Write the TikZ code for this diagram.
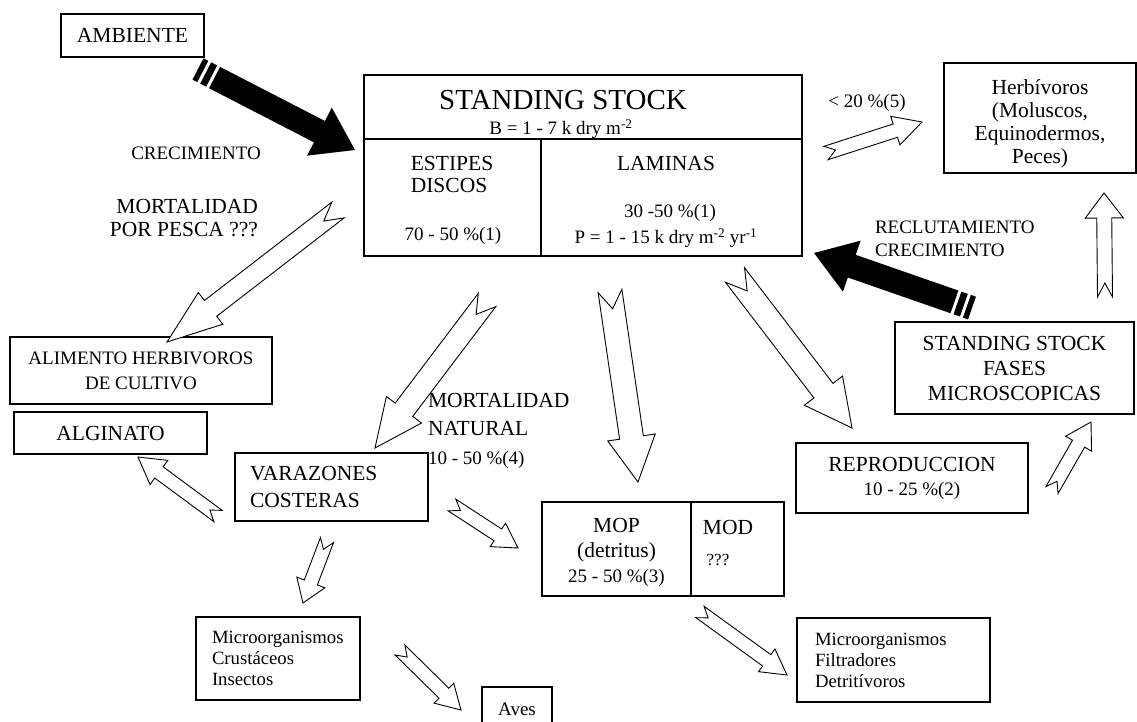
\documentclass[tikz,border=0pt]{standalone}
\usepackage{fontspec}
\setmainfont{Liberation Serif}
\usetikzlibrary{calc}

\newcommand\fsbig{\fontsize{29}{32}\selectfont}
\newcommand\fsmed{\fontsize{21.5}{25}\selectfont}
\newcommand\fssmall{\fontsize{19}{21}\selectfont}

% hollow arrow: tail, tip, shaft half width, head half width, head length, notch
\newcommand\hollowarrow[6]{%
  \draw[line width=0.9pt, fill=white]
    let \p1=($(#2)-(#1)$), \n1={atan2(\y1,\x1)}, \n2={veclen(\x1,\y1)-#5pt} in
    ($(#1)+(\n1+90:#3pt)$) -- ($(#1)+(\n1:\n2)+(\n1+90:#3pt)$)
    -- ($(#1)+(\n1:\n2)+(\n1+90:#4pt)$) -- (#2)
    -- ($(#1)+(\n1:\n2)+(\n1-90:#4pt)$) -- ($(#1)+(\n1:\n2)+(\n1-90:#3pt)$)
    -- ($(#1)+(\n1-90:#3pt)$) -- ($(#1)+(\n1:#6pt)$) -- cycle;}

% black arrow with two white bands at the tail
\newcommand\blackarrow[2]{%
  \fill let \p1=($(#2)-(#1)$), \n1={atan2(\y1,\x1)}, \n2={veclen(\x1,\y1)-40pt} in
    ($(#1)+(\n1+90:12pt)$) -- ($(#1)+(\n1:\n2)+(\n1+90:12pt)$)
    -- ($(#1)+(\n1:\n2)+(\n1+90:27pt)$) -- (#2)
    -- ($(#1)+(\n1:\n2)+(\n1-90:27pt)$) -- ($(#1)+(\n1:\n2)+(\n1-90:12pt)$)
    -- ($(#1)-(\n1+90:12pt)$) -- cycle;
  \draw[white, line width=3pt] let \p1=($(#2)-(#1)$), \n1={atan2(\y1,\x1)} in
    ($(#1)+(\n1:7pt)+(\n1+90:14pt)$) -- ($(#1)+(\n1:7pt)+(\n1-90:14pt)$)
    ($(#1)+(\n1:17pt)+(\n1+90:14pt)$) -- ($(#1)+(\n1:17pt)+(\n1-90:14pt)$);}

\begin{document}
\begin{tikzpicture}[x=1pt, y=-1pt,
    every node/.style={inner sep=0pt, outer sep=0pt},
    box/.style={draw, line width=1.3pt}]
    \fill[white] (0,0) rectangle (1137,721);
    \useasboundingbox (0,0) rectangle (1137,721);

    % boxes
    \node[box, minimum width=143pt, minimum height=43pt, font=\fsmed] (amb) at (132.5,35.5) {AMBIENTE};
    \node[box, minimum width=438pt, minimum height=181pt] (ss) at (583,165.5) {};
    \draw[line width=1.3pt] ($(ss.north west)+(0,64)$) -- ($(ss.north east)+(0,64)$);
    \draw[line width=1.3pt] ($(ss.south west)+(177,0)$) -- ($(ss.south west)+(177,-117)$);
    \node[box, minimum width=192pt, minimum height=110pt, align=center,
          font={\fontsize{21.5}{23}\selectfont}] (herb) at (1040,118)
          {\rule{0pt}{27pt}Herbívoros\\(Moluscos,\\Equinodermos,\\Peces)};
    \node[box, minimum width=239pt, minimum height=92pt, align=center, font=\fsmed] (fases) at (1014.5,368)
          {STANDING STOCK\\FASES\\MICROSCOPICAS};
    \node[box, minimum width=232pt, minimum height=70pt, align=center, font=\fsmed] (repro) at (912,478)
          {REPRODUCCION\\[-1pt]\fssmall 10 - 25 \%(2)};
    \node[box, minimum width=242pt, minimum height=94pt] (mop) at (663,549) {};
    \draw[line width=1.3pt] ($(mop.south west)+(149,0)$) -- ($(mop.north west)+(149,0)$);
    \node[box, minimum width=193pt, minimum height=84pt, inner xsep=18pt, text width=157pt, align=left,
          font={\fontsize{18.7}{21}\selectfont}] (filt) at (893.5,660) {Microorganismos\\Filtradores\\Detritívoros};
    \node[box, minimum width=164pt, minimum height=83pt, inner xsep=16pt, text width=132pt, align=left,
          font={\fontsize{18.7}{21}\selectfont}] (micro) at (278,658.5) {Microorganismos\\Crustáceos\\Insectos};
    \node[box, minimum width=70pt, minimum height=44pt, font=\fssmall] (aves) at (517,709) {Aves};
    \node[box, minimum width=262pt, minimum height=67pt, align=center,
          font={\fontsize{19}{25}\selectfont}] (alim) at (141,370.5) {ALIMENTO HERBIVOROS\\DE CULTIVO};
    \node[box, minimum width=193pt, minimum height=42pt, font=\fsmed] (alg) at (110.5,433) {ALGINATO};
    \node[box, minimum width=193pt, minimum height=68pt, inner xsep=15pt, text width=163pt, align=left,
          font={\fontsize{21.5}{27}\selectfont}] (var) at (331.5,487) {VARAZONES\\COSTERAS};

    % texts in the big boxes
    \node[font=\fsbig] (sstitle) at (563,100) {STANDING STOCK};
    \node[font=\fssmall] (ssbio) at (561,129) {B = 1 - 7 k dry m\textsuperscript{-2}};
    \node[font={\fontsize{21.5}{22}\selectfont}, align=left] (estipes) at (452,174) {ESTIPES\\DISCOS};
    \node[font=\fssmall] (estpct) at (453,236) {70 - 50 \%(1)};
    \node[font=\fsmed] (laminas) at (666,163) {LAMINAS};
    \node[font=\fssmall] (lampct) at (670,213) {30 -50 \%(1)};
    \node[font=\fssmall] (lamprod) at (666,238) {P = 1 - 15 k dry m\textsuperscript{-2} yr\textsuperscript{-1}};
    \node[font=\fsmed, align=center] (moptxt) at (616.5,552) {MOP\\(detritus)\\\fssmall 25 - 50 \%(3)};
    \node[font=\fsmed] (modtxt) at (728,527) {MOD};
    \node[font={\fontsize{17}{20}\selectfont}] (modpct) at (718,560) {???};

    % free labels
    \node[font=\fssmall] (crec) at (196,153) {CRECIMIENTO};
    \node[font={\fontsize{21.5}{23}\selectfont}, align=right, anchor=east] (pesca) at (258,218.5)
          {MORTALIDAD\\POR PESCA ???};
    \node[font=\fssmall] (herbpct) at (867,103) {< 20 \%(5)};
    \node[font={\fontsize{19}{23}\selectfont}, align=left, anchor=west] (reclu) at (875,238.5)
          {RECLUTAMIENTO\\CRECIMIENTO};
    \node[font={\fontsize{21.5}{28}\selectfont}, align=left, anchor=west] (mortnat) at (428,414)
          {MORTALIDAD\\NATURAL};
    \node[font=\fssmall, anchor=west] (natpct) at (428,460) {10 - 50 \%(4)};

    % arrow ends
    \coordinate (amb-t) at (198,69);     \coordinate (amb-h) at (355,150);
    \coordinate (rec-t) at (972,308);    \coordinate (rec-h) at (814,253);
    \coordinate (pes-t) at (338,210);    \coordinate (pes-h) at (167,342);
    \coordinate (nat-t) at (487,300);    \coordinate (nat-h) at (375,448);
    \coordinate (det-t) at (610,291);    \coordinate (det-h) at (638,482);
    \coordinate (rep-t) at (735,275);    \coordinate (rep-h) at (852,428);
    \coordinate (hrb-t) at (826,153);    \coordinate (hrb-h) at (922,122);
    \coordinate (up-t) at (1105,297);    \coordinate (up-h) at (1104,193);
    \coordinate (fas-t) at (1052,490);   \coordinate (fas-h) at (1091,422);
    \coordinate (alg-t) at (218,516);    \coordinate (alg-h) at (138,457);
    \coordinate (mic-t) at (327,540);    \coordinate (mic-h) at (303,603);
    \coordinate (vm-t) at (452,505);     \coordinate (vm-h) at (518,548);
    \coordinate (av-t) at (400,650);     \coordinate (av-h) at (461,710);
    \coordinate (fil-t) at (700,612);    \coordinate (fil-h) at (787,675);

    % black arrows
    \blackarrow{amb-t}{amb-h}
    \blackarrow{rec-t}{rec-h}
    % hollow arrows
    \hollowarrow{pes-t}{pes-h}{10}{20}{55}{18}
    \hollowarrow{nat-t}{nat-h}{11}{22}{48}{18}
    \hollowarrow{det-t}{det-h}{12}{24}{45}{18}
    \hollowarrow{rep-t}{rep-h}{12}{24}{47}{20}
    \hollowarrow{hrb-t}{hrb-h}{7}{15}{28}{10}
    \hollowarrow{up-t}{up-h}{7.5}{19}{25}{14}
    \hollowarrow{fas-t}{fas-h}{7}{15}{25}{10}
    \hollowarrow{alg-t}{alg-h}{7}{15}{26}{10}
    \hollowarrow{mic-t}{mic-h}{7}{15}{22}{10}
    \hollowarrow{vm-t}{vm-h}{7}{14}{24}{10}
    \hollowarrow{av-t}{av-h}{7}{14}{24}{10}
    \hollowarrow{fil-t}{fil-h}{7}{14}{25}{10}
\end{tikzpicture}
\end{document}
